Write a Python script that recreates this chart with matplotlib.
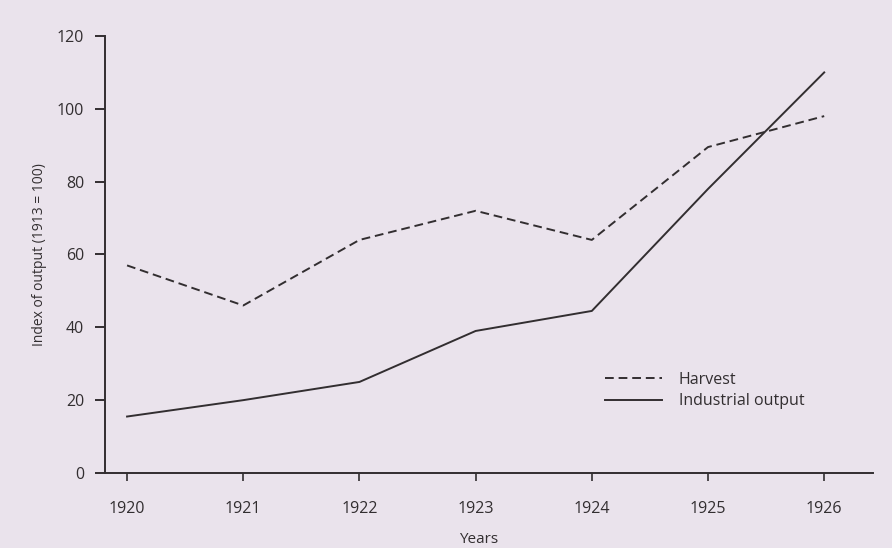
import matplotlib.pyplot as plt

# Data
years = [1920, 1921, 1922, 1923, 1924, 1925, 1926]
harvest = [57, 46, 64, 72, 64, 89.5, 98]
industrial = [15.5, 20, 25, 39, 44.5, 78, 110]
yticks = [0, 20, 40, 60, 80, 100, 120]

plt.rcParams['font.family'] = ['Open Sans', 'DejaVu Sans']
bg = '#eae3ec'
ink = '#322e30'

fig = plt.figure(figsize=(8.92, 5.48), dpi=100, facecolor=bg)
ax = fig.add_axes([0.1177, 0.1369, 0.861, 0.7974])
ax.set_facecolor(bg)

ax.plot(years, harvest, color=ink, lw=1.4, dashes=(4.5, 2.5), label='Harvest')
ax.plot(years, industrial, color=ink, lw=1.4, label='Industrial output')

ax.set_xlim(1919.81, 1926.42)
ax.set_ylim(0, 120)
ax.set_xticks(years)
ax.set_yticks(yticks)

for s in ['top', 'right']:
    ax.spines[s].set_visible(False)
for s in ['left', 'bottom']:
    ax.spines[s].set_color(ink)
    ax.spines[s].set_linewidth(1.4)

ax.tick_params(axis='y', length=7, width=1.4, color=ink, labelcolor=ink,
               labelsize=11.5, pad=8)
ax.tick_params(axis='x', length=6, width=1.2, color=ink, labelcolor=ink,
               labelsize=11.5, pad=14)

ax.set_ylabel('Index of output (1913 = 100)', fontsize=10, color=ink)
ax.yaxis.set_label_coords(-0.076, 0.5)
ax.set_xlabel('Years', fontsize=11, color=ink)
ax.xaxis.set_label_coords(0.486, -0.135)

ax.legend(loc='upper left', bbox_to_anchor=(0.641, 0.25), frameon=False,
          borderpad=0, handlelength=3.55, handletextpad=1.05, labelspacing=0.35,
          fontsize=11.5, labelcolor=ink)

fig.savefig('out.png', dpi=100, facecolor=bg)
